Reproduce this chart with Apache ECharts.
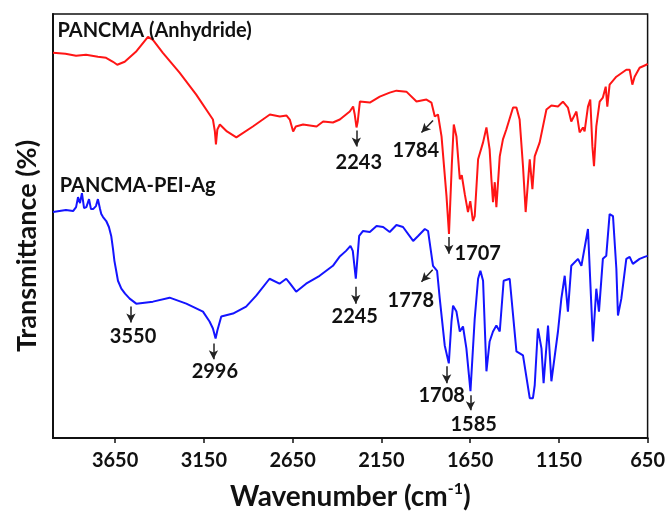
<!DOCTYPE html>
<html><head><meta charset="utf-8">
<script src="https://cdn.jsdelivr.net/npm/echarts@6/dist/echarts.min.js"></script>
<style>html,body{margin:0;padding:0;background:#fff}#c{width:668px;height:516px}</style>
</head><body><div id="c"></div>
<script>
const xTicks=[650,1150,1650,2150,2650,3150,3650];
const redWn=[4000,3930,3870,3814,3747,3701,3662,3638,3596,3533,3465,3437,3381,3287,3193,3099,3088,3082,3074,3060,3020,2967,2874,2778,2722,2684,2666,2647,2632,2591,2515,2478,2423,2384,2328,2309,2300,2290,2283,2271,2215,2159,2103,2065,2009,1952,1896,1868,1849,1831,1811,1783,1769,1753,1742,1727,1708,1697,1680,1662,1649,1634,1624,1605,1577,1558,1540,1530,1521,1511,1502,1483,1465,1446,1408,1389,1371,1352,1337,1314,1299,1286,1258,1220,1192,1155,1127,1099,1080,1051,1033,1014,1005,986,973,961,952,939,920,902,886,877,864,826,770,751,736,723,695,657,650];
const redT=[387,386,384,385,383,382,378,375,378,388,403,400,387,367,345,320,308,295,310,315,308,302,313,325,323,324,320,308,313,315,313,318,317,320,328,333,325,312,318,338,337,343,347,349,348,338,340,337,323,325,303,243,205,275,315,303,260,264,245,227,238,218,223,280,297,312,290,260,237,257,232,283,300,310,332,332,320,273,227,280,250,283,297,330,334,333,338,332,318,328,307,312,308,333,340,293,273,313,338,342,353,333,355,363,370,370,355,363,372,375,376];
const blueWn=[4000,3927,3887,3870,3859,3848,3837,3825,3812,3797,3786,3774,3758,3747,3735,3728,3718,3700,3685,3672,3662,3654,3643,3634,3615,3594,3568,3531,3437,3343,3249,3155,3118,3099,3084,3074,3052,2986,2912,2855,2780,2724,2686,2664,2630,2574,2498,2423,2386,2349,2324,2311,2305,2294,2275,2253,2215,2177,2140,2103,2065,2028,1971,1943,1905,1887,1859,1836,1821,1793,1770,1755,1746,1727,1708,1690,1671,1648,1624,1605,1592,1577,1558,1540,1521,1502,1483,1461,1427,1389,1352,1314,1296,1286,1268,1248,1236,1211,1192,1155,1136,1117,1099,1080,1042,1023,986,958,939,924,902,883,864,845,826,817,798,770,751,733,695,667,650];
const blueT=[227,229,228,232,242,236,246,231,232,240,230,230,233,240,230,225,222,218,212,203,190,178,167,158,150,145,140,135,137,141,135,127,117,110,100,108,122,125,132,143,160,155,160,155,147,155,163,173,182,188,193,188,190,160,203,208,207,213,212,207,214,212,198,203,210,208,173,168,140,93,75,117,133,127,107,112,90,47,120,160,168,158,67,97,107,113,107,158,160,87,83,40,40,53,110,90,55,113,57,107,140,163,127,173,180,173,210,97,150,127,180,183,225,223,170,123,140,180,182,175,180,182,183];
const peakLabels=['2243','1784','1707','1778','2245','3550','2996','1708','1585'];
const labelPos=[[2277,277],[1956,289],[1607,185],[1984,138],[2300,122],[3549,102],[3088,67],[1810,43],[1630,14]];
const arrows=[[2291,309,2291,293],[1859,319,1924,307],[1770,202,1770,185],[1861,169,1924,157],[2294,152,2294,135],[3561,132,3561,116],[3096,95,3096,79],[1782,72,1782,55],[1648,43,1648,28]];
const seriesNames=['PANCMA (Anhydride)','PANCMA-PEI-Ag'];
const namePos=[[3975,409],[3962,254]];

const FONT='Lato';
const chart=echarts.init(document.getElementById('c'),null,{renderer:'canvas'});
const pair=(a,b)=>a.map((v,i)=>[v,b[i]]);
chart.setOption({
  animation:false,
  backgroundColor:'#fff',
  grid:{left:53,right:20,top:14,bottom:77,show:true,borderColor:'#111',borderWidth:1.5,backgroundColor:'transparent'},
  xAxis:{type:'value',inverse:true,min:650,max:4000,
    axisLine:{show:true,lineStyle:{color:'#111',width:2}},
    axisTick:{show:true,inside:false,length:5,customValues:xTicks,lineStyle:{color:'#111',width:1.5}},
    axisLabel:{customValues:xTicks,margin:13,formatter:v=>String(v),fontFamily:FONT,fontWeight:'bold',fontSize:20,color:'#111'},
    splitLine:{show:false},
    name:'Wavenumber (cm{sup|-1})',nameLocation:'middle',nameGap:43,
    nameTextStyle:{fontFamily:FONT,fontWeight:'bold',fontSize:28,color:'#111',
      rich:{sup:{fontFamily:FONT,fontWeight:'bold',fontSize:16,color:'#111',verticalAlign:'top',lineHeight:32}}}
  },
  yAxis:{type:'value',min:0,max:426,
    axisLine:{show:true,lineStyle:{color:'#111',width:2}},
    axisTick:{show:false},axisLabel:{show:false},splitLine:{show:false}},
  graphic:[{type:'text',x:27,y:246,rotation:Math.PI/2,
    style:{text:'Transmittance (%)',fontFamily:FONT,fontWeight:'bold',fontSize:27,fill:'#111',align:'center',verticalAlign:'middle'}}],
  series:[
    {type:'line',name:seriesNames[0],data:pair(redWn,redT),showSymbol:false,smooth:false,
     lineStyle:{color:'#ff1515',width:2},itemStyle:{color:'#ff1515'},z:3,
     markPoint:{symbol:'circle',symbolSize:0,silent:true,
       label:{show:true,color:'#111',fontFamily:FONT,fontWeight:'bold',fontSize:20},
       data:peakLabels.map((t,i)=>({coord:labelPos[i],value:t,label:{position:'inside',formatter:t}}))
         .concat(seriesNames.map((t,i)=>({coord:namePos[i],value:t,label:{position:'right',distance:0,formatter:t,fontSize:20}})))},
     markLine:{silent:true,symbol:['none','arrow'],symbolSize:[7,9],
       lineStyle:{color:'#222',width:1.5,type:'solid'},label:{show:false},
       data:arrows.map(a=>[{coord:[a[0],a[1]]},{coord:[a[2],a[3]]}])}
    },
    {type:'line',name:seriesNames[1],data:pair(blueWn,blueT),showSymbol:false,smooth:false,
     lineStyle:{color:'#1414ff',width:2},itemStyle:{color:'#1414ff'},z:3}
  ]
});
</script></body></html>
